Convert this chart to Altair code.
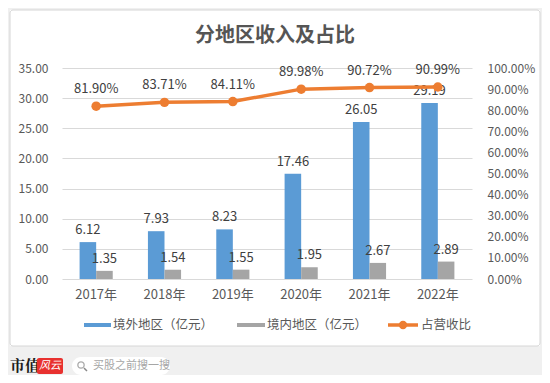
import altair as alt
import pandas as pd

years = ["2017年", "2018年", "2019年", "2020年", "2021年", "2022年"]
overseas = [6.12, 7.93, 8.23, 17.46, 26.05, 29.19]
domestic = [1.35, 1.54, 1.55, 1.95, 2.67, 2.89]
share = [0.8190, 0.8371, 0.8411, 0.8998, 0.9072, 0.9099]
left_ticks = [0, 5, 10, 15, 20, 25, 30, 35]
right_ticks = [0.0, 0.1, 0.2, 0.3, 0.4, 0.5, 0.6, 0.7, 0.8, 0.9, 1.0]

S1 = "境外地区（亿元）"
S2 = "境内地区（亿元）"
S3 = "占营收比"
TITLE = "分地区收入及占比"

FONT = "Noto Sans CJK SC"
TXT = "#595959"
BLUE = "#5B9BD5"
GRAY = "#A5A5A5"
ORANGE = "#ED7D31"
BG = "#f0f0f0"

df = pd.DataFrame({"year": years, S1: overseas, S2: domestic, "share": share})

W, H = 410, 211

xenc = alt.X("year:N", sort=years,
             scale=alt.Scale(paddingInner=0.515, paddingOuter=0.2575),
             axis=alt.Axis(title=None, labelAngle=0, domain=False, ticks=False,
                           labelPadding=9, labelFontSize=13, labelColor=TXT, labelFont=FONT))

base = alt.Chart(df)

folded = base.transform_fold([S1, S2], as_=["series", "value"])
yleft = alt.Y("value:Q", scale=alt.Scale(domain=[0, 35], nice=False, zero=True),
              axis=alt.Axis(title=None, values=left_ticks, format=".2f",
                            grid=True, gridColor="#d9d9d9", domain=False, ticks=False,
                            labelOverlap=False, labelFlush=False,
                            labelPadding=14, labelFontSize=12, labelColor=TXT, labelFont=FONT))
xoff = alt.XOffset("series:N", scale=alt.Scale(domain=[S1, S2], paddingInner=0, paddingOuter=0))

bars = folded.mark_bar().encode(
    x=xenc, y=yleft, xOffset=xoff,
    color=alt.Color("series:N", scale=alt.Scale(domain=[S1, S2], range=[BLUE, GRAY]), legend=None),
)
bar_labels = folded.mark_text(dy=-12, baseline="middle", fontSize=13, font=FONT, color="#404040").encode(
    x=xenc, y=yleft, xOffset=xoff,
    text=alt.Text("value:Q", format=".2f"),
)
left = alt.layer(bars, bar_labels)

yright = alt.Y("share:Q", scale=alt.Scale(domain=[0, 1], nice=False, zero=True),
               axis=alt.Axis(title=None, orient="right", values=right_ticks, format=".2%",
                             grid=False, domain=False, ticks=False, labelPadding=15,
                             labelOverlap=False, labelFlush=False,
                             labelFontSize=12, labelColor=TXT, labelFont=FONT))
line = base.mark_line(color=ORANGE, strokeWidth=3.5).encode(x=xenc, y=yright)
pts = base.mark_point(filled=True, color=ORANGE, size=90, opacity=1).encode(x=xenc, y=yright)
pct_labels = base.mark_text(dy=-17, baseline="middle", fontSize=13, font=FONT, color="#404040").encode(
    x=xenc, y=yright, text=alt.Text("share:Q", format=".2%"))
right = alt.layer(line, pts, pct_labels)

one = pd.DataFrame({"k": [0]})

# gray frame around the white card
frame = alt.Chart(pd.DataFrame({
    "x": [-54, -54, 478, -54], "x2": [480, -52, 480, 480],
    "y": [-60, -60, -60, 278], "y2": [-58, 307, 307, 307]})).mark_rect(color=BG).encode(
    x=alt.X("x:Q", scale=None), x2="x2:Q", y=alt.Y("y:Q", scale=None), y2="y2:Q")
card_border = alt.Chart(one).mark_rect(fill=None, fillOpacity=0, stroke="#d6d6d6", strokeWidth=1,
                                       cornerRadius=3).encode(
    x=alt.value(-52), x2=alt.value(478), y=alt.value(-58), y2=alt.value(278))

title = alt.Chart(pd.DataFrame({"t": [TITLE]})).mark_text(
    fontSize=20, fontWeight="bold", font=FONT, color="#555555", align="center", baseline="middle").encode(
    x=alt.value(213), y=alt.value(-32), text="t:N")

# legend
leg_rects = alt.Chart(pd.DataFrame({"x": [22, 175], "x2": [49, 203], "c": [BLUE, GRAY]})).mark_rect().encode(
    x=alt.X("x:Q", scale=None), x2="x2:Q", y=alt.value(255), y2=alt.value(259),
    color=alt.Color("c:N", scale=None))
leg_line = alt.Chart(one).mark_rule(color=ORANGE, strokeWidth=3.5).encode(
    x=alt.value(326), x2=alt.value(356), y=alt.value(257))
leg_pt = alt.Chart(one).mark_point(filled=True, color=ORANGE, size=70, opacity=1).encode(
    x=alt.value(341), y=alt.value(257))
leg_text = alt.Chart(pd.DataFrame({"x": [51, 205, 359], "t": [S1, S2, S3]})).mark_text(
    align="left", baseline="middle", fontSize=12.5, font=FONT, color=TXT).encode(
    x=alt.X("x:Q", scale=None), y=alt.value(257), text="t:N")

# footer
footer_brand = alt.Chart(pd.DataFrame({"t": ["市值"]})).mark_text(
    align="left", baseline="middle", fontSize=15, fontWeight="bold", font="Noto Serif CJK SC, Noto Sans CJK SC",
    color="#1a1a1a").encode(x=alt.value(-52), y=alt.value(298), text="t:N")
logo_box = alt.Chart(one).mark_rect(color="#e8312f", cornerRadius=2).encode(
    x=alt.value(-25), x2=alt.value(1), y=alt.value(290), y2=alt.value(306))
logo_text = alt.Chart(pd.DataFrame({"t": ["风云"]})).mark_text(
    align="center", baseline="middle", fontSize=11, fontStyle="italic", font=FONT, color="white").encode(
    x=alt.value(-12), y=alt.value(298), text="t:N")
pill = alt.Chart(one).mark_rect(color="white", cornerRadius=9).encode(
    x=alt.value(10), x2=alt.value(108), y=alt.value(289), y2=alt.value(307))
mag = alt.Chart(one).mark_point(shape="circle", filled=False, color="#888888", size=40, strokeWidth=1.3).encode(
    x=alt.value(19), y=alt.value(297))
mag_h = alt.Chart(one).mark_rule(color="#888888", strokeWidth=1.5).encode(
    x=alt.value(22), x2=alt.value(25), y=alt.value(300), y2=alt.value(303))
pill_text = alt.Chart(pd.DataFrame({"t": ["买股之前搜一搜"]})).mark_text(
    align="left", baseline="middle", fontSize=11, font=FONT, color="#a6a6a6").encode(
    x=alt.value(31), y=alt.value(298), text="t:N")

chart = alt.layer(
    left, right, frame, card_border, title, leg_rects, leg_line, leg_pt, leg_text,
    footer_brand, logo_box, logo_text, pill, mag, mag_h, pill_text,
).resolve_scale(y="independent").properties(
    width=W, height=H,
    autosize=alt.AutoSizeParams(type="none"),
    padding={"left": 54, "top": 60, "right": 70, "bottom": 96},
    background="white",
).configure_view(stroke=None)

chart.save("out.html", embed_options={"renderer": "svg", "actions": False})
